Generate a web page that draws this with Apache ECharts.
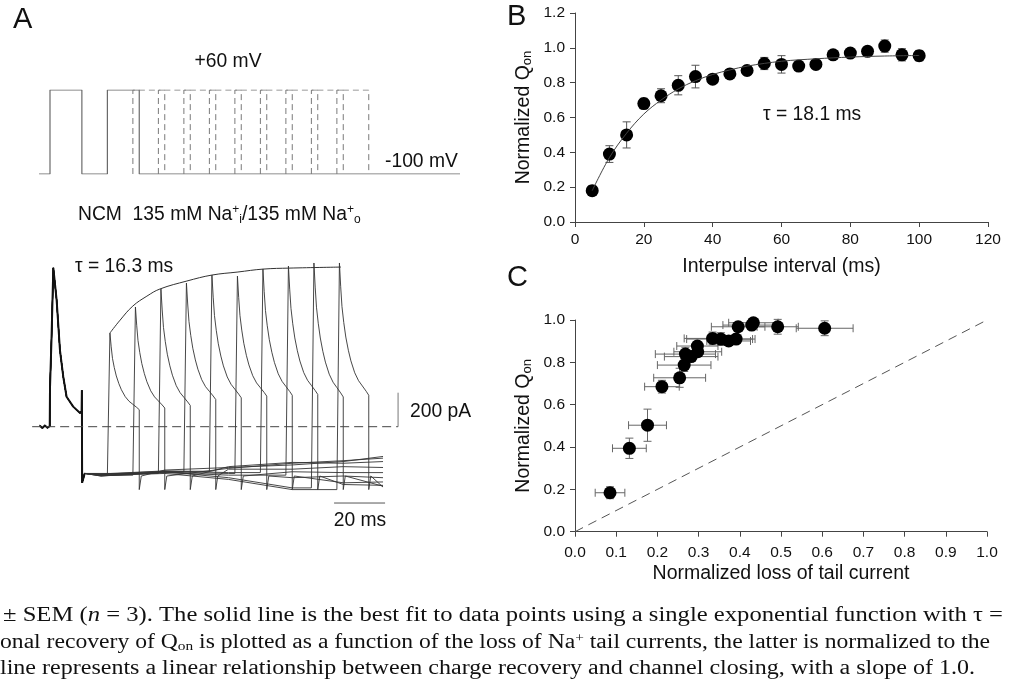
<!DOCTYPE html>
<html><head><meta charset="utf-8">
<script src="https://cdn.jsdelivr.net/npm/echarts@6/dist/echarts.min.js"></script>
<style>html,body{margin:0;padding:0;background:#fff}#c{width:1012px;height:683px}</style>
</head><body><div id="c"></div>
<script>
// ---------- Panel A : voltage protocol (ms, mV) ----------
const holdPotential = -100;
const testPotential = 60;
const protocolRange = [-4.3, 160.8];
const firstPulse = [0, 12.5];
const pulseWidth = 12.5;
const secondPulseStarts = [22.5, 32.5, 42.5, 52.5, 62.5, 72.5, 82.5, 92.5, 102.5, 112.5];

// ---------- Panel A : currents (ms, pA) ----------
const firstPulseTrace = [[-4,6],[-3,-8],[-2,7],[-1,-6],[-0.1,3],[0,230],[0.6,520],[1.3,934],[2.6,745],[3.9,451],[5.2,294],[6.5,176],[9.1,118],[11.8,80],[12.4,92],[12.5,215],[12.6,-330],[13.6,-275]];
const secondPeakAmps = [551, 704, 810, 845, 892, 886, 928, 945, 963, 963];
const secondSteady = [100, 110, 125, 160, 170, 180, 185, 190, 175, 185];
const decayShape = [[0,1],[0.5,0.82],[1,0.67],[1.7,0.55],[2.5,0.44],[3.5,0.34],[4.5,0.26],[6,0.17],[7.5,0.11],[9,0.07],[10.5,0.03]];
const baselineTimes = [20, 45, 70, 95, 115, 130.6];
const baselineLevels = [
  [-280,-255,-240,-225,-205,-175],
  [-285,-262,-245,-215,-200,-185],
  [-275,-258,-235,-210,-215,-205],
  [-290,-265,-250,-250,-235,-240],
  [-280,-262,-248,-265,-270,-270],
  [-285,-268,-275,-300,-290,-300],
  [-278,-260,-270,-320,-330,-325],
  [-290,-270,-285,-345,-340,-345],
  [-283,-265,-300,-360,-355,-350],
  [-288,-275,-310,-370,-350,-355]
];
const recoveryFitA = [[23.5,551],[27.5,627],[32.5,710],[38,768],[43.1,810],[53.7,857],[63.5,892],[73.7,910],[83.5,927],[94.1,933],[114.1,939]];

// ---------- Panel B ----------
const intervals = [5,10,15,20,25,30,35,40,45,50,55,60,65,70,75,80,85,90,95,100];
const qonB = [0.18,0.39,0.50,0.68,0.725,0.785,0.835,0.82,0.85,0.87,0.91,0.905,0.895,0.905,0.96,0.97,0.98,1.01,0.96,0.955];
const semB = [0.028,0.048,0.075,0.03,0.04,0.055,0.065,0.015,0.025,0.025,0.035,0.05,0.025,0.015,0.015,0.015,0.025,0.035,0.035,0.03];
const fitB = [[5,0.18],[10,0.37],[15,0.51],[20,0.62],[25,0.70],[30,0.764],[35,0.811],[40,0.847],[45,0.873],[50,0.895],[60,0.923],[70,0.937],[80,0.947],[90,0.953],[100,0.956]];

// ---------- Panel C ----------
const lossC = [0.085,0.132,0.176,0.211,0.254,0.265,0.268,0.282,0.298,0.297,0.334,0.354,0.373,0.391,0.396,0.429,0.433,0.492,0.606];
const qonC  = [0.184,0.394,0.503,0.685,0.727,0.787,0.839,0.827,0.85,0.877,0.913,0.91,0.901,0.91,0.968,0.976,0.987,0.968,0.961];
const xErrC = [0.036,0.041,0.046,0.042,0.063,0.065,0.073,0.065,0.058,0.05,0.069,0.083,0.053,0.04,0.065,0.07,0.06,0.05,0.069];
const yErrC = [0.028,0.048,0.076,0.03,0.045,0.03,0.03,0.02,0.02,0.02,0.03,0.03,0.015,0.015,0.015,0.015,0.02,0.035,0.035];
const identityLine = [[0,0],[1,1]];

// ---------- build ----------
const SANS = '"Liberation Sans", Arial, sans-serif';
const SERIF = '"Liberation Serif", "Times New Roman", serif';

const protoSolid = [[protocolRange[0],holdPotential],[firstPulse[0],holdPotential],[firstPulse[0],testPotential],[firstPulse[1],testPotential],[firstPulse[1],holdPotential],
  [secondPulseStarts[0],holdPotential],[secondPulseStarts[0],testPotential],[secondPulseStarts[0]+pulseWidth,testPotential],[secondPulseStarts[0]+pulseWidth,holdPotential],[protocolRange[1],holdPotential]];

const series = [];
series.push({type:'line', xAxisIndex:0, yAxisIndex:0, data:protoSolid, symbol:'none', lineStyle:{color:'#6a6a6a', width:1.2}, silent:true});
secondPulseStarts.slice(1).forEach(s => {
  series.push({type:'line', xAxisIndex:0, yAxisIndex:0, symbol:'none', silent:true,
    data:[[s,holdPotential],[s,testPotential],[s+pulseWidth,testPotential],[s+pulseWidth,holdPotential]],
    lineStyle:{color:'#7a7a7a', width:1, type:[6,4]}});
});

secondPulseStarts.forEach((s,k) => {
  const e = s + pulseWidth;
  const pts = firstPulseTrace.slice();
  let last = -275;
  baselineTimes.forEach((t,i) => { if (t < s) { pts.push([t, baselineLevels[k][i]]); last = baselineLevels[k][i]; } });
  pts.push([s, last]);
  const peak = secondPeakAmps[k], st = secondSteady[k];
  decayShape.forEach(d => pts.push([s + 1 + d[0], st + (peak - st) * d[1]]));
  pts.push([e, st]); pts.push([e, -370]); pts.push([e + 0.8, -290]);
  baselineTimes.forEach((t,i) => { if (t > e + 0.8) pts.push([t, baselineLevels[k][i]]); });
  series.push({type:'line', xAxisIndex:1, yAxisIndex:1, data:pts, symbol:'none', silent:true,
    lineStyle:{color:'#333', width:0.9}});
});
// overlapping first-pulse responses look heavier
series.push({type:'line', xAxisIndex:1, yAxisIndex:1, data:firstPulseTrace, symbol:'none', silent:true, lineStyle:{color:'#111', width:2}});
// zero line, fit, scale bars
series.push({type:'line', xAxisIndex:1, yAxisIndex:1, data:[[-7,0],[136.5,0]], symbol:'none', silent:true, lineStyle:{color:'#444', width:1, type:[9,5]}});
series.push({type:'line', xAxisIndex:1, yAxisIndex:1, data:recoveryFitA, smooth:0.4, symbol:'none', silent:true, lineStyle:{color:'#333', width:1}});
series.push({type:'line', xAxisIndex:1, yAxisIndex:1, data:[[136.5,0],[136.5,200]], symbol:'none', silent:true, lineStyle:{color:'#777', width:1}});
series.push({type:'line', xAxisIndex:1, yAxisIndex:1, data:[[111.4,-449],[131.4,-449]], symbol:'none', silent:true, lineStyle:{color:'#555', width:1}});

// Panel B
function errY(params, api){
  const x=api.value(0), y=api.value(1), e=api.value(2);
  const lo=api.coord([x,y-e]), hi=api.coord([x,y+e]); const c=4;
  const st={stroke:'#555', lineWidth:1};
  return {type:'group', children:[
    {type:'line', shape:{x1:lo[0],y1:lo[1],x2:hi[0],y2:hi[1]}, style:st},
    {type:'line', shape:{x1:lo[0]-c,y1:lo[1],x2:lo[0]+c,y2:lo[1]}, style:st},
    {type:'line', shape:{x1:hi[0]-c,y1:hi[1],x2:hi[0]+c,y2:hi[1]}, style:st}]};
}
series.push({type:'custom', xAxisIndex:2, yAxisIndex:2, renderItem:errY, encode:{x:0,y:1},
  data:intervals.map((x,i)=>[x,qonB[i],semB[i]]), silent:true});
series.push({type:'line', xAxisIndex:2, yAxisIndex:2, data:fitB, smooth:0.35, symbol:'none', silent:true, lineStyle:{color:'#444', width:1}});
series.push({type:'scatter', xAxisIndex:2, yAxisIndex:2, data:intervals.map((x,i)=>[x,qonB[i]]), symbol:'circle', symbolSize:13, itemStyle:{color:'#000', opacity:1}, silent:true});

// Panel C
function errXY(params, api){
  const x=api.value(0), y=api.value(1), ex=api.value(2), ey=api.value(3);
  const c=4; const st={stroke:'#666', lineWidth:1};
  const l=api.coord([x-ex,y]), r=api.coord([x+ex,y]), b=api.coord([x,y-ey]), t=api.coord([x,y+ey]);
  return {type:'group', children:[
    {type:'line', shape:{x1:l[0],y1:l[1],x2:r[0],y2:r[1]}, style:st},
    {type:'line', shape:{x1:l[0],y1:l[1]-c,x2:l[0],y2:l[1]+c}, style:st},
    {type:'line', shape:{x1:r[0],y1:r[1]-c,x2:r[0],y2:r[1]+c}, style:st},
    {type:'line', shape:{x1:b[0],y1:b[1],x2:t[0],y2:t[1]}, style:st},
    {type:'line', shape:{x1:b[0]-c,y1:b[1],x2:b[0]+c,y2:b[1]}, style:st},
    {type:'line', shape:{x1:t[0]-c,y1:t[1],x2:t[0]+c,y2:t[1]}, style:st}]};
}
series.push({type:'line', xAxisIndex:3, yAxisIndex:3, data:identityLine, symbol:'none', silent:true, lineStyle:{color:'#555', width:1, type:[9,6]}});
series.push({type:'custom', xAxisIndex:3, yAxisIndex:3, renderItem:errXY, encode:{x:0,y:1},
  data:lossC.map((x,i)=>[x,qonC[i],xErrC[i],yErrC[i]]), silent:true});
series.push({type:'scatter', xAxisIndex:3, yAxisIndex:3, data:lossC.map((x,i)=>[x,qonC[i]]), symbol:'circle', symbolSize:13, itemStyle:{color:'#000', opacity:1}, silent:true});

const axLine = {lineStyle:{color:'#444', width:1}};
const axTick = {length:5, lineStyle:{color:'#444'}};
const lbl = {fontFamily:SANS, fontSize:15.5, color:'#111'};
const nameStyle = {fontFamily:SANS, fontSize:19.5, color:'#111'};
const qonName = {
  name:'{a|Normalized Q}{s|on}', nameLocation:'middle', nameRotate:90,
  nameTextStyle:{...nameStyle, rich:{a:{fontFamily:SANS,fontSize:19.5,color:'#111',verticalAlign:'top',lineHeight:20},
                                      s:{fontFamily:SANS,fontSize:13,color:'#111',verticalAlign:'bottom',lineHeight:13,padding:[10,0,0,0]}}}
};

const option = {
  backgroundColor:'#fff', animation:false,
  grid:[
    {left:29.6, top:90, width:433.5, height:84},
    {left:29.6, top:256.7, width:433.5, height:255},
    {left:575, top:13, width:413, height:209},
    {left:575, top:320, width:412, height:211.7}
  ],
  xAxis:[
    {gridIndex:0, type:'value', min:-8, max:162, show:false},
    {gridIndex:1, type:'value', min:-8, max:162, show:false},
    {gridIndex:2, type:'value', min:0, max:120, interval:20, axisLine:axLine, axisTick:axTick, splitLine:{show:false},
      axisLabel:{...lbl, margin:10}, name:'Interpulse interval (ms)', nameLocation:'middle', nameGap:35, nameTextStyle:nameStyle},
    {gridIndex:3, type:'value', min:0, max:1, interval:0.1, axisLine:axLine, axisTick:axTick, splitLine:{show:false},
      axisLabel:{...lbl, margin:13, formatter:v=>v.toFixed(1)}, name:'Normalized loss of tail current', nameLocation:'middle', nameGap:32, nameTextStyle:nameStyle}
  ],
  yAxis:[
    {gridIndex:0, type:'value', min:-100, max:60, show:false},
    {gridIndex:1, type:'value', min:-500, max:1000, show:false},
    {gridIndex:2, type:'value', min:0, max:1.2, interval:0.2, axisLine:{show:true,...axLine}, axisTick:{show:true,...axTick}, splitLine:{show:false},
      axisLabel:{...lbl, margin:10, formatter:v=>v.toFixed(1)}, ...qonName, nameGap:41},
    {gridIndex:3, type:'value', min:0, max:1, interval:0.2, axisLine:{show:true,...axLine}, axisTick:{show:true,...axTick}, splitLine:{show:false},
      axisLabel:{...lbl, margin:10, formatter:v=>v.toFixed(1)}, ...qonName, nameGap:41}
  ],
  series:series,
  graphic:[]
};

const T = (x,y,text,opt={}) => ({type:'text', x:x, y:y, silent:true,
  style:Object.assign({text:text, font:'19.3px '+SANS, fill:'#111', textAlign:'left', textVerticalAlign:'middle'}, opt)});
option.graphic.push(T(13,20,'A',{font:'29px '+SANS}));
option.graphic.push(T(507,17,'B',{font:'29px '+SANS}));
option.graphic.push(T(507,278,'C',{font:'29px '+SANS}));
option.graphic.push(T(228,62,'+60 mV',{textAlign:'center'}));
option.graphic.push(T(385,162,'-100 mV'));
option.graphic.push({type:'text', x:78, y:215, silent:true, style:{
  text:'NCM  135 mM Na{p|+}{b|i}/135 mM Na{p|+}{b|o}', font:'19.3px '+SANS, fill:'#111', textVerticalAlign:'middle',
  rich:{p:{fontSize:12, verticalAlign:'top', padding:[0,0,10,0], fontFamily:SANS}, b:{fontSize:12, verticalAlign:'bottom', padding:[10,0,0,0], fontFamily:SANS}}}});
option.graphic.push(T(75,267,'τ = 16.3 ms'));
option.graphic.push(T(410,412,'200 pA'));
option.graphic.push(T(360,521,'20 ms',{textAlign:'center'}));
option.graphic.push(T(763,115,'τ = 18.1 ms'));

// caption
const capLines = [
  {y:616, w:1000, x:3, plain:'± SEM (n = 3). The solid line is the best fit to data points using a single exponential function with τ =',
   rich:'± SEM ({i|n} = 3). The solid line is the best fit to data points using a single exponential function with τ ='},
  {y:643, w:1003, x:0, plain:'onal recovery of Qon is plotted as a function of the loss of Na+ tail currents, the latter is normalized to the',
   rich:'onal recovery of Q{s|on} is plotted as a function of the loss of Na{p|+} tail currents, the latter is normalized to the'},
  {y:669, w:975, x:0, plain:'line represents a linear relationship between charge recovery and channel closing, with a slope of 1.0.',
   rich:'line represents a linear relationship between charge recovery and channel closing, with a slope of 1.0.'}
];
const cv = document.createElement('canvas').getContext('2d');
cv.font = '20px ' + SERIF;
capLines.forEach(L => {
  const w = cv.measureText(L.plain).width;
  option.graphic.push({type:'text', x:L.x, y:L.y, scaleX:L.w / w, silent:true, style:{
    text:L.rich, font:'20px '+SERIF, fill:'#111', textVerticalAlign:'middle',
    rich:{i:{fontStyle:'italic', fontSize:20, fontFamily:SERIF},
          s:{fontSize:13, fontFamily:SERIF, verticalAlign:'bottom', padding:[8,0,0,0]},
          p:{fontSize:13, fontFamily:SERIF, verticalAlign:'top', padding:[0,0,8,0]}}}});
});

const chart = echarts.init(document.getElementById('c'), null, {renderer:'canvas'});
chart.setOption(option);
</script></body></html>
